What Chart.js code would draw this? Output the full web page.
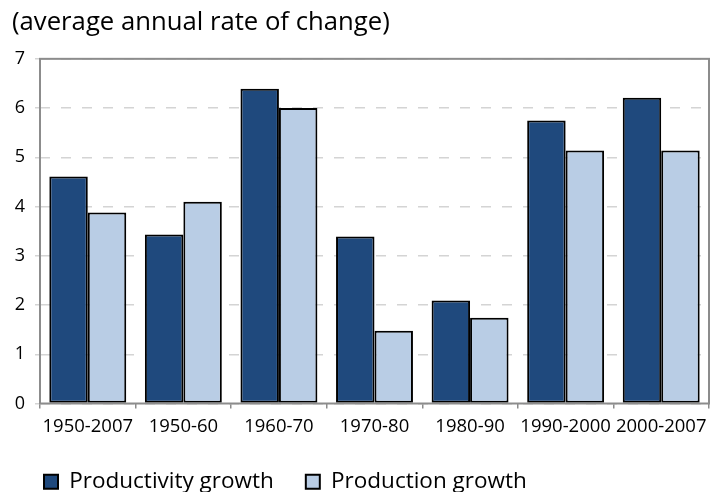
<!DOCTYPE html>
<html>
<head>
<meta charset="utf-8">
<script src="https://cdn.jsdelivr.net/npm/chart.js@4"></script>
<style>
  html, body { margin: 0; padding: 0; background: #fff; }
  #wrap { width: 716px; height: 492px; }
</style>
</head>
<body>
<div id="wrap"><canvas id="chart"></canvas></div>
<script>
'use strict'
const periods = ['1950-2007', '1950-60', '1960-70', '1970-80', '1980-90', '1990-2000', '2000-2007']
const productivity = [4.61, 3.43, 6.39, 3.39, 2.09, 5.75, 6.21]
const production = [3.88, 4.10, 6.0, 1.48, 1.74, 5.14, 5.14]
const yTicks = [0, 1, 2, 3, 4, 5, 6, 7]

const FONT = 'Open Sans'

// grey frame round the plot area
const frame = {
  id: 'frame',
  afterDraw(chart) {
    const { ctx, chartArea: a } = chart
    ctx.save()
    ctx.strokeStyle = '#8c8c8c'
    ctx.lineWidth = 2
    ctx.strokeRect(a.left, a.top, a.right - a.left, a.bottom - a.top)
    ctx.restore()
  },
}

const ctx = document.getElementById('chart').getContext('2d')

const chart = new Chart(ctx, {
  type: 'bar',
  data: {
    labels: periods,
    datasets: [
      {
        label: 'Productivity growth',
        data: productivity,
        backgroundColor: '#1f497d',
        borderColor: '#000',
        borderWidth: 2,
        borderSkipped: false,
      },
      {
        label: 'Production growth',
        data: production,
        backgroundColor: '#b9cde5',
        borderColor: '#000',
        borderWidth: 2,
        borderSkipped: false,
      },
    ],
  },
  options: {
    responsive: true,
    maintainAspectRatio: false,
    animation: false,
    categoryPercentage: 0.805,
    barPercentage: 1,
    layout: { padding: { left: 12, right: 7, top: 0, bottom: -11 } },
    scales: {
      x: {
        afterFit(axis) { axis.height = 35 },
        grid: {
          offset: true,
          drawOnChartArea: false,
          drawTicks: true,
          tickLength: 5,
          color: '#8c8c8c',
          lineWidth: 1.5,
        },
        border: { display: false },
        ticks: {
          color: '#000',
          font: { family: FONT, size: 18.5 },
          padding: 7,
          maxRotation: 0,
          autoSkip: false,
        },
      },
      y: {
        min: 0,
        max: 7,
        afterFit(axis) { axis.width = 28 },
        afterBuildTicks(axis) {
          axis.ticks = yTicks.map(v => ({ value: v }))
        },
        grid: {
          color: '#d4d4d4',
          lineWidth: 1.5,
          tickLength: 5,
        },
        border: { display: false, dash: [10, 11] },
        ticks: {
          color: '#000',
          font: { family: FONT, size: 18 },
          padding: 10,
        },
      },
    },
    plugins: {
      title: {
        display: true,
        text: '(average annual rate of change)',
        align: 'start',
        color: '#000',
        font: { family: FONT, size: 25.7, weight: 'normal' },
        padding: { top: 7, bottom: 21 },
      },
      legend: {
        position: 'bottom',
        align: 'start',
        labels: {
          color: '#000',
          boxWidth: 14,
          boxHeight: 14,
          padding: 32,
          font: { family: FONT, size: 22.5 },
        },
      },
      tooltip: { enabled: false },
    },
  },
  plugins: [frame],
})
</script>
</body>
</html>
